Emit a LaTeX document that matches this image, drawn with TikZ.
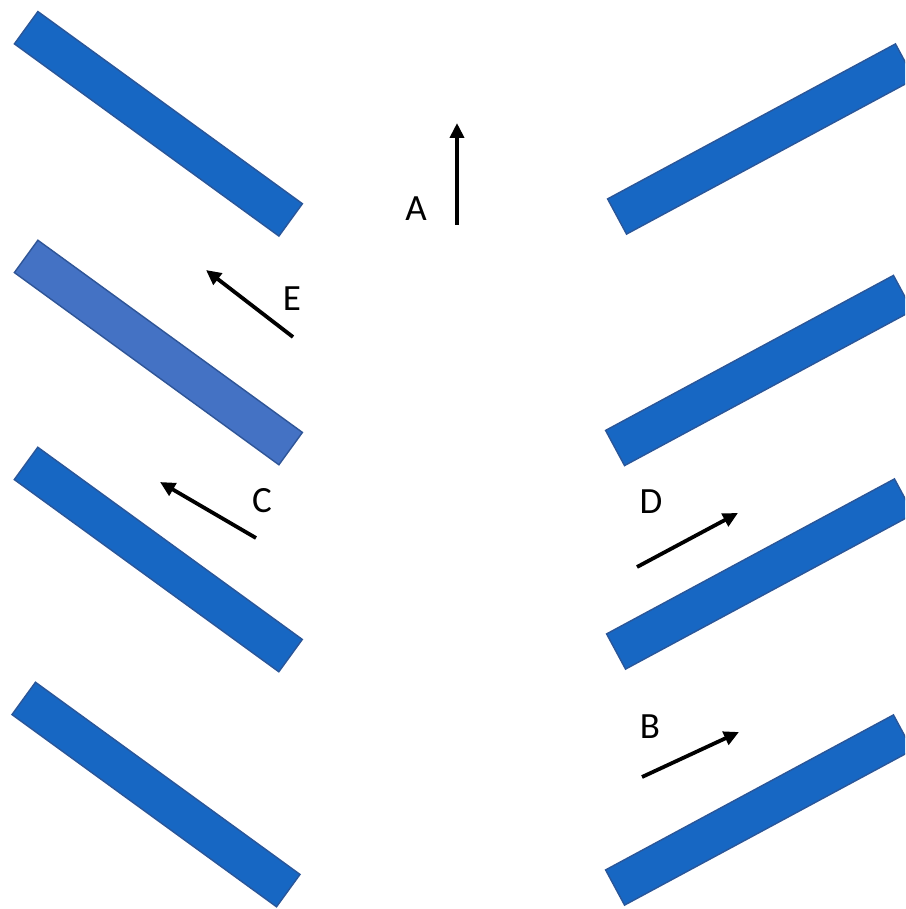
\documentclass[tikz,border=0pt]{standalone}
\usepackage{fontspec}
\setmainfont{Carlito}
\usepackage{xcolor}
\usetikzlibrary{arrows.meta,positioning}
\definecolor{barblue}{HTML}{1767C3}
\definecolor{baredge}{HTML}{2A5699}
\definecolor{barlight}{HTML}{4472C4}
\definecolor{lightedge}{HTML}{2F5597}

\begin{document}
\begin{tikzpicture}[x=1pt,y=-1pt,
  bar/.style={draw=baredge,fill=barblue,line width=1.4pt,minimum width=327pt,minimum height=40pt,inner sep=0pt},
  barE/.style={draw=lightedge,fill=barlight,line width=1.4pt,minimum width=327pt,minimum height=40pt,inner sep=0pt},
  lbl/.style={font=\fontsize{37}{37}\selectfont,inner sep=0pt},
  flow/.style={line width=3.8pt,-{Triangle[length=15pt,width=14pt]}}]

  \useasboundingbox (0,0) rectangle (905,909);
  \begin{scope}
  \clip (0,0) rectangle (905,909);

  % left row
  \node[bar,rotate=-36] (l1) at (158.4,123.8) {};
  \node[barE,rotate=-36] (l2) at (158.4,352.5) {};
  \node[bar,rotate=-36] (l3) at (158.3,559.5) {};
  \node[bar,rotate=-36] (l4) at (156,794.5) {};

  % right row
  \node[bar,rotate=28.3] (r1) at (761,139) {};
  \node[bar,rotate=28.3] (r2) at (759,370.5) {};
  \node[bar,rotate=28.3] (r3) at (760,574) {};
  \node[bar,rotate=28.3] (r4) at (759,810) {};
  \end{scope}

  % arrows
  \coordinate (a0) at (457,225); \coordinate (a1) at (457,123);
  \coordinate (e0) at (293,337); \coordinate (e1) at (206,270);
  \coordinate (c0) at (256,538); \coordinate (c1) at (160,482);
  \coordinate (d0) at (637,567); \coordinate (d1) at (738,513);
  \coordinate (b0) at (642,777); \coordinate (b1) at (739,732);
  \draw[flow] (a0)--(a1);
  \draw[flow] (e0)--(e1);
  \draw[flow] (c0)--(c1);
  \draw[flow] (d0)--(d1);
  \draw[flow] (b0)--(b1);

  \node[lbl] (la) at (416,209) {A};
  \node[lbl] (le) at (292,299) {E};
  \node[lbl] (lc) at (262,501) {C};
  \node[lbl] (ld) at (651,502) {D};
  \node[lbl] (lb) at (650,727) {B};

\end{tikzpicture}
\end{document}
